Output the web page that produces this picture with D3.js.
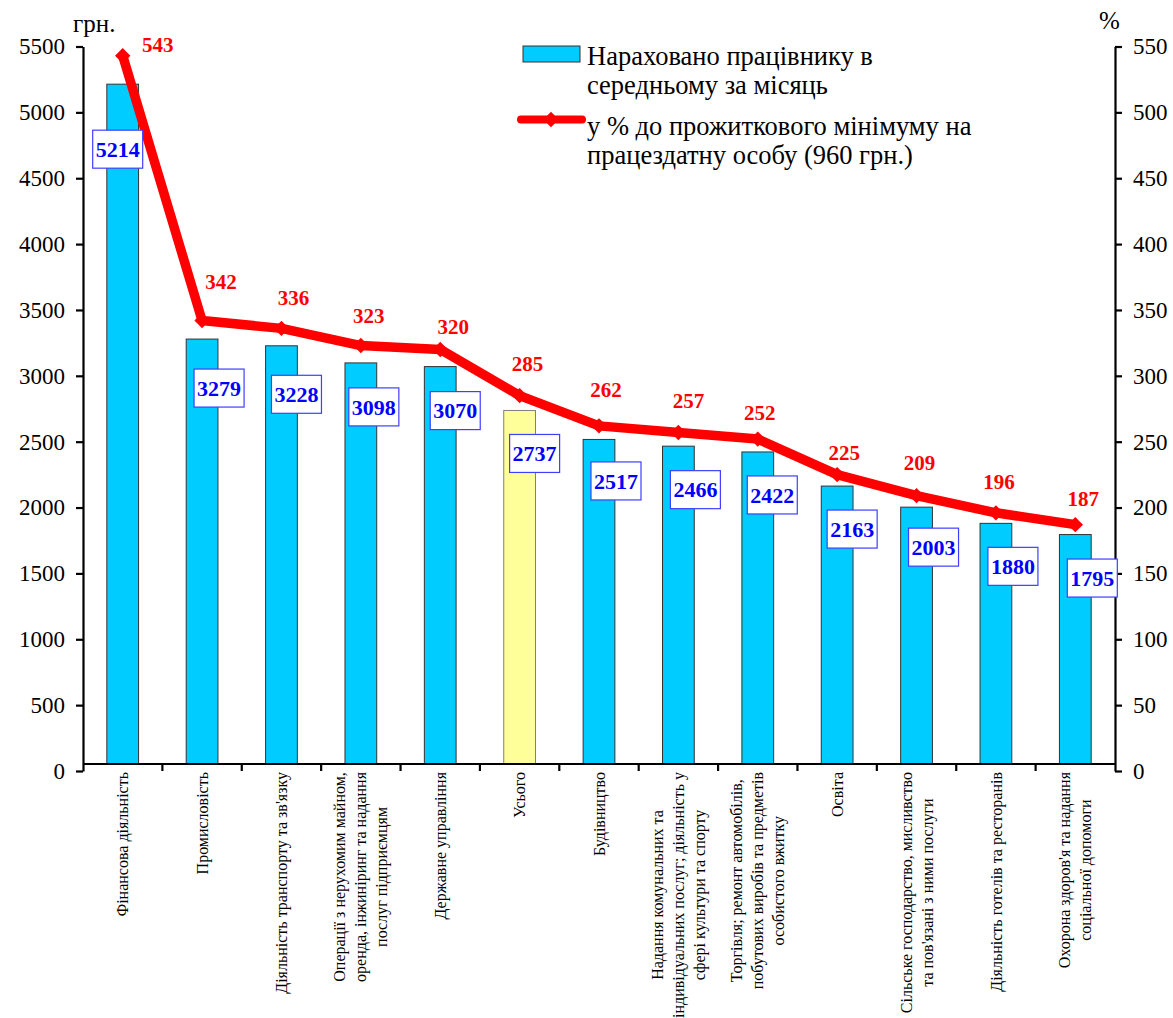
<!DOCTYPE html>
<html lang="uk">
<head>
<meta charset="utf-8">
<title>Середньомісячна заробітна плата за видами діяльності</title>
<script src="https://cdn.jsdelivr.net/npm/d3@7"></script>
<style>
  html, body { margin: 0; padding: 0; background: #ffffff; }
</style>
</head>
<body>
<svg id="chart" width="1173" height="1018"></svg>
<script>
// Види економічної діяльності (рядки підписів розділені "\n")
const categories = [
  "Фінансова діяльність",
  "Промисловість",
  "Діяльність транспорту та зв'язку",
  "Операції з нерухомим майном,\nоренда, інжиніринг та надання\nпослуг підприємцям",
  "Державне управління",
  "Усього",
  "Будівництво",
  "Надання комунальних та\nіндивідуальних послуг; діяльність у\nсфері культури та спорту",
  "Торгівля; ремонт автомобілів,\nпобутових виробів та предметів\nособистого вжитку",
  "Освіта",
  "Сільське господарство, мисливство\nта пов'язані з ними послуги",
  "Діяльність готелів та ресторанів",
  "Охорона здоров'я та надання\nсоціальної допомоги"
];

// Нараховано працівнику в середньому за місяць, грн.
const wages = [5214, 3279, 3228, 3098, 3070, 2737, 2517, 2466, 2422, 2163, 2003, 1880, 1795];

// У % до прожиткового мінімуму на працездатну особу (960 грн.)
const percents = [543, 342, 336, 323, 320, 285, 262, 257, 252, 225, 209, 196, 187];

// Підсумкова категорія, що виділяється кольором
const totalCategory = "Усього";

const leftTicks = [0, 500, 1000, 1500, 2000, 2500, 3000, 3500, 4000, 4500, 5000, 5500];
const rightTicks = [0, 50, 100, 150, 200, 250, 300, 350, 400, 450, 500, 550];

const legendBarText = ["Нараховано працівнику в", "середньому за місяць"];
const legendLineText = ["у % до прожиткового мінімуму на", "працездатну особу (960 грн.)"];

// ---- розмітка ----
const FONT = '"Liberation Serif"';
const plot = { left: 83, right: 1115, top: 46.5, zero: 771, base: 764 };
const colors = { bar: "#00ccff", total: "#ffff99", line: "#ff0000", value: "#0000ff" };

// ручні зсуви підписів відносно вершини стовпчика / точки лінії [dx, dy]
const valueShift = [[-5, 65], [17, 49], [15, 48.5], [13, 44], [15, 44], [15, 43], [17, 41.5],
                    [17, 43.5], [14.5, 43], [15, 43], [17, 40], [17, 43], [17, 43.5]];
const pctShift = [[35, -11], [19, -39], [12, -31], [8, -30], [13, -23], [8, -32], [7, -36],
                  [10, -32], [2, -26], [7, -22], [3, -33], [3, -31], [8, -26]];

const svg = d3.select("#chart");

const x = d3.scaleBand().domain(categories).range([plot.left, plot.right]).paddingInner(0).paddingOuter(0);
const yL = d3.scaleLinear().domain([0, 5500]).range([plot.zero, plot.top]);
const yR = d3.scaleLinear().domain([0, 550]).range([plot.zero, plot.top]);
const barW = x.bandwidth() * 0.40;
const cx = c => x(c) + x.bandwidth() / 2;

// текст із заданим шрифтом
const txt = (sel, size, weight) => sel
  .style("font-family", FONT)
  .style("font-size", size + "px")
  .style("font-weight", weight || "normal");

// ---- стовпчики ----
svg.append("g").selectAll("rect")
  .data(categories)
  .join("rect")
  .attr("x", c => cx(c) - barW / 2)
  .attr("y", (c, i) => yL(wages[i]))
  .attr("width", barW)
  .attr("height", (c, i) => plot.base - yL(wages[i]))
  .attr("fill", c => c === totalCategory ? colors.total : colors.bar)
  .attr("stroke", c => c === totalCategory ? "#7f7f7f" : "#333333")
  .attr("stroke-width", 1);

// ---- осі ----
const axisStyle = g => {
  g.attr("font-family", null).attr("font-size", null);
  g.selectAll(".domain").attr("stroke", "#000").attr("stroke-width", 2.2);
  g.selectAll(".tick line").attr("stroke", "#000").attr("stroke-width", 2.2);
  g.selectAll(".tick text").attr("fill", "#000").call(txt, 23);
};

svg.append("g")
  .attr("transform", `translate(${plot.left},0)`)
  .call(d3.axisLeft(yL).tickValues(leftTicks).tickSize(7).tickSizeOuter(0).tickPadding(11).tickFormat(d3.format("d")))
  .call(axisStyle);

svg.append("g")
  .attr("transform", `translate(${plot.right},0)`)
  .call(d3.axisRight(yR).tickValues(rightTicks).tickSize(7).tickSizeOuter(0).tickPadding(11).tickFormat(d3.format("d")))
  .call(axisStyle);

// вісь категорій
const xAxis = svg.append("g");
xAxis.append("line")
  .attr("x1", plot.left).attr("x2", plot.right)
  .attr("y1", plot.base).attr("y2", plot.base)
  .attr("stroke", "#000").attr("stroke-width", 2.2);
xAxis.selectAll("line.tick")
  .data(categories.slice(1))
  .join("line")
  .attr("class", "tick")
  .attr("x1", c => x(c)).attr("x2", c => x(c))
  .attr("y1", plot.base).attr("y2", plot.base + 7)
  .attr("stroke", "#000").attr("stroke-width", 2.2);

// підписи категорій (повернуті, вирівняні по осі, рядки по центру)
const catFont = 16, catLine = 21, catTop = 772;
categories.forEach(c => {
  const lines = c.split("\n");
  const g = svg.append("g");
  const texts = lines.map(ln => g.append("text")
    .call(txt, catFont)
    .attr("fill", "#000")
    .attr("text-anchor", "middle")
    .text(ln));
  const maxLen = d3.max(texts, t => t.node().getComputedTextLength());
  texts.forEach((t, k) => {
    const lx = cx(c) + (k - (lines.length - 1) / 2) * catLine;
    const ly = catTop + maxLen / 2;
    t.attr("transform", `translate(${lx},${ly}) rotate(-90)`).attr("dy", "0.35em");
  });
});

// одиниці виміру осей
svg.append("text").attr("x", 73).attr("y", 32).call(txt, 25).text("грн.");
svg.append("text").attr("x", 1099).attr("y", 29).call(txt, 25).text("%");

// ---- лінія відсотків ----
const line = d3.line()
  .x((d, i) => cx(categories[i]))
  .y(d => yR(d));

svg.append("path")
  .datum(percents)
  .attr("d", line)
  .attr("fill", "none")
  .attr("stroke", colors.line)
  .attr("stroke-width", 9.5)
  .attr("stroke-linejoin", "round");

const diamond = d3.symbol().type(d3.symbolDiamond2).size(150);
svg.append("g").selectAll("path")
  .data(percents)
  .join("path")
  .attr("d", diamond)
  .attr("transform", (d, i) => `translate(${cx(categories[i])},${yR(d)})`)
  .attr("fill", colors.line);

// підписи відсотків
svg.append("g").selectAll("text")
  .data(percents)
  .join("text")
  .attr("x", (d, i) => cx(categories[i]) + pctShift[i][0])
  .attr("y", (d, i) => yR(d) + pctShift[i][1])
  .attr("dy", "0.35em")
  .attr("text-anchor", "middle")
  .call(txt, 21, "bold")
  .attr("fill", colors.line)
  .text(d => d);

// підписи значень у рамках
const boxW = 50, boxH = 38;
const vl = svg.append("g").selectAll("g")
  .data(wages)
  .join("g")
  .attr("transform", (d, i) =>
    `translate(${cx(categories[i]) + valueShift[i][0]},${yL(d) + valueShift[i][1]})`);
vl.append("rect")
  .attr("x", -boxW / 2).attr("y", -boxH / 2)
  .attr("width", boxW).attr("height", boxH)
  .attr("fill", "#ffffff")
  .attr("stroke", "#3f3fff")
  .attr("stroke-width", 1.2);
vl.append("text")
  .attr("text-anchor", "middle")
  .attr("dy", "0.35em")
  .call(txt, 22, "bold")
  .attr("fill", colors.value)
  .text(d => d);

// ---- легенда ----
const legendFont = 26.5;
const legend = svg.append("g");
legend.append("rect")
  .attr("x", 523).attr("y", 46).attr("width", 57).attr("height", 16)
  .attr("fill", colors.bar).attr("stroke", "#333").attr("stroke-width", 1);
legendBarText.forEach((t, k) => legend.append("text")
  .attr("x", 587).attr("y", 65 + k * 28.5)
  .call(txt, legendFont).attr("fill", "#000").text(t));
legend.append("line")
  .attr("x1", 521).attr("x2", 582).attr("y1", 119.5).attr("y2", 119.5)
  .attr("stroke", colors.line).attr("stroke-width", 8).attr("stroke-linecap", "round");
legend.append("path")
  .attr("d", diamond)
  .attr("transform", "translate(551,119.5)")
  .attr("fill", colors.line);
legendLineText.forEach((t, k) => legend.append("text")
  .attr("x", 587).attr("y", 135 + k * 28.5)
  .call(txt, legendFont).attr("fill", "#000").text(t));
</script>
</body>
</html>
